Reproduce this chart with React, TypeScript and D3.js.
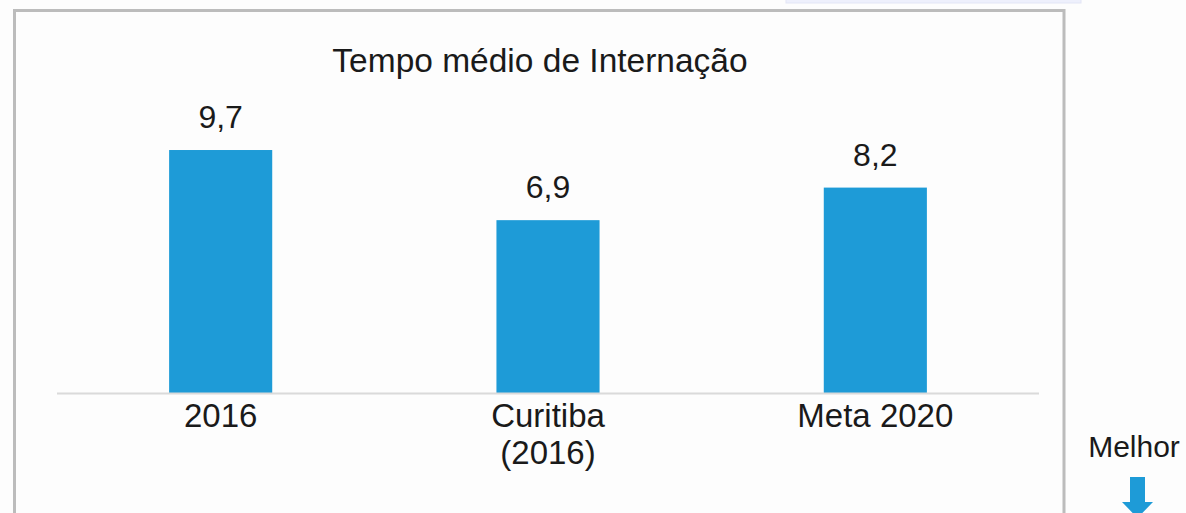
import { useEffect, useRef } from "react"
import * as d3 from "d3"

// Chart data
const categories = ["2016", "Curitiba (2016)", "Meta 2020"]
const categoryLines = [["2016"], ["Curitiba", "(2016)"], ["Meta 2020"]]
const values = [9.7, 6.9, 8.2]
const valueLabels = ["9,7", "6,9", "8,2"]
const title = "Tempo médio de Internação"
const sideNote = "Melhor"

export default function App() {
  const svgRef = useRef<SVGSVGElement>(null)

  useEffect(() => {
    if (!svgRef.current) return
    const svg = d3.select(svgRef.current)
    svg.selectAll("*").remove()

    const width = 1186
    const height = 513
    const baseY = 393
    const font = "'Liberation Sans', Arial, sans-serif"

    svg.attr("width", width).attr("height", height).attr("viewBox", [0, 0, width, height])

    svg.append("rect").attr("width", width).attr("height", height).attr("fill", "#fdfdfd")

    // light strip at the top right (part of page above)
    svg.append("rect")
      .attr("x", 786).attr("y", -2).attr("width", 295).attr("height", 5)
      .attr("fill", "#eef0fc").attr("stroke", "#e3e6f6").attr("stroke-width", 1)

    // panel border (bottom runs off the picture)
    svg.append("path")
      .attr("d", `M14.5,${height + 5} V10.5 H1064 V${height + 5}`)
      .attr("fill", "none")
      .attr("stroke", "#bcbcbc")
      .attr("stroke-width", 3)

    const x = d3.scaleBand().domain(categories).range([57, 1039]).paddingInner(0.685).paddingOuter(0.3425)
    const y = d3.scaleLinear().domain([0, 10]).range([baseY, baseY - 250.5])

    // title
    svg.append("text")
      .attr("x", 540).attr("y", 72)
      .attr("text-anchor", "middle")
      .attr("font-family", font).attr("font-size", "33.5px").attr("fill", "#1a1a1a")
      .text(title)

    // bars
    svg.selectAll(".bar")
      .data(values)
      .join("rect")
      .attr("class", "bar")
      .attr("x", (_d, i) => x(categories[i])!)
      .attr("y", (d) => y(d))
      .attr("width", x.bandwidth())
      .attr("height", (d) => baseY - y(d))
      .attr("fill", "#1e9bd7")

    // baseline
    svg.append("line")
      .attr("x1", 57).attr("x2", 1039)
      .attr("y1", baseY + 0.5).attr("y2", baseY + 0.5)
      .attr("stroke", "#dadada").attr("stroke-width", 2)

    // value labels
    svg.selectAll(".value-label")
      .data(values)
      .join("text")
      .attr("class", "value-label")
      .attr("x", (_d, i) => x(categories[i])! + x.bandwidth() / 2)
      .attr("y", (d) => y(d) - 22)
      .attr("text-anchor", "middle")
      .attr("font-family", font).attr("font-size", "32px").attr("fill", "#1a1a1a")
      .text((_d, i) => valueLabels[i])

    // category labels
    const cat = svg.selectAll(".cat-label")
      .data(categories)
      .join("text")
      .attr("class", "cat-label")
      .attr("x", (d) => x(d)! + x.bandwidth() / 2)
      .attr("y", 427)
      .attr("text-anchor", "middle")
      .attr("font-family", font).attr("font-size", "33px").attr("fill", "#1a1a1a")

    cat.selectAll("tspan")
      .data((_d, i) => categoryLines[i].map((line) => ({ line, cx: x(categories[i])! + x.bandwidth() / 2 })))
      .join("tspan")
      .attr("x", (d) => d.cx)
      .attr("dy", (_d, j) => (j === 0 ? 0 : 37))
      .text((d) => d.line)

    // "Melhor" note with down arrow
    svg.append("text")
      .attr("x", 1134).attr("y", 457)
      .attr("text-anchor", "middle")
      .attr("font-family", font).attr("font-size", "30px").attr("fill", "#1a1a1a")
      .text(sideNote)

    svg.append("path")
      .attr("d", "M1130,477 H1145 V502 H1153 L1137.5,518 L1122,502 H1130 Z")
      .attr("fill", "#1e9bd7")
  }, [])

  return (
    <svg
      ref={svgRef}
      style={{ position: "absolute", left: 0, top: 0, display: "block" }}
    />
  )
}
